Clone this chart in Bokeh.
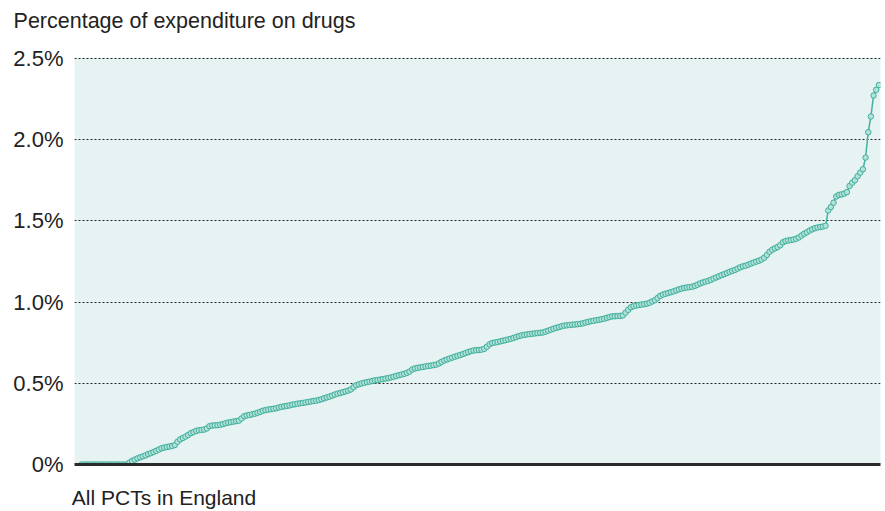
from bokeh.plotting import figure
from bokeh.models import FixedTicker, Range1d, LinearAxis
from bokeh.embed import file_html
from bokeh.resources import INLINE

# Percentage of expenditure on drugs, PCTs in England sorted ascending
drug_share = [
    0, 0, 0, 0, 0, 0, 0, 0, 0, 0, 0, 0, 0, 0, 0, 0, 0, 0,
    0.012, 0.022, 0.030, 0.038, 0.044, 0.050, 0.056, 0.064, 0.070, 0.077,
    0.084, 0.092, 0.100, 0.104, 0.108, 0.111, 0.114, 0.120, 0.140, 0.155,
    0.163, 0.172, 0.182, 0.193, 0.200, 0.207, 0.211, 0.213, 0.215, 0.222,
    0.236, 0.240, 0.241, 0.242, 0.245, 0.249, 0.254, 0.258, 0.261, 0.264,
    0.267, 0.270, 0.283, 0.297, 0.302, 0.305, 0.309, 0.313, 0.318, 0.324,
    0.331, 0.335, 0.338, 0.341, 0.343, 0.346, 0.351, 0.355, 0.358, 0.361,
    0.364, 0.368, 0.371, 0.374, 0.377, 0.379, 0.382, 0.385, 0.388, 0.391,
    0.393, 0.397, 0.402, 0.408, 0.413, 0.418, 0.424, 0.431, 0.436, 0.440,
    0.445, 0.450, 0.455, 0.462, 0.476, 0.488, 0.494, 0.499, 0.503, 0.507,
    0.510, 0.514, 0.518, 0.520, 0.523, 0.526, 0.529, 0.532, 0.536, 0.540,
    0.545, 0.550, 0.554, 0.558, 0.564, 0.572, 0.585, 0.591, 0.595, 0.598,
    0.601, 0.604, 0.607, 0.609, 0.612, 0.615, 0.622, 0.632, 0.640, 0.646,
    0.652, 0.658, 0.664, 0.669, 0.674, 0.680, 0.686, 0.692, 0.698, 0.702,
    0.704, 0.705, 0.707, 0.712, 0.725, 0.740, 0.748, 0.751, 0.754, 0.758,
    0.762, 0.766, 0.770, 0.774, 0.779, 0.785, 0.791, 0.795, 0.798, 0.801,
    0.803, 0.805, 0.807, 0.809, 0.811, 0.813, 0.818, 0.824, 0.830, 0.836,
    0.841, 0.846, 0.851, 0.855, 0.857, 0.859, 0.861, 0.862, 0.864, 0.866,
    0.869, 0.874, 0.878, 0.882, 0.885, 0.888, 0.891, 0.894, 0.898, 0.903,
    0.908, 0.912, 0.913, 0.914, 0.915, 0.918, 0.935, 0.952, 0.968, 0.975,
    0.979, 0.982, 0.985, 0.987, 0.990, 0.996, 1.004, 1.012, 1.025, 1.038,
    1.046, 1.051, 1.056, 1.061, 1.066, 1.072, 1.078, 1.083, 1.087, 1.090,
    1.092, 1.095, 1.100, 1.107, 1.115, 1.121, 1.126, 1.131, 1.137, 1.145,
    1.152, 1.159, 1.166, 1.172, 1.179, 1.186, 1.192, 1.198, 1.206, 1.214,
    1.220, 1.224, 1.230, 1.237, 1.243, 1.249, 1.255, 1.262, 1.273, 1.290,
    1.310, 1.322, 1.331, 1.339, 1.350, 1.368, 1.376, 1.379, 1.382, 1.385,
    1.390, 1.398, 1.410, 1.421, 1.430, 1.440, 1.448, 1.455, 1.459, 1.462,
    1.465, 1.470, 1.564, 1.585, 1.612, 1.650, 1.660, 1.663, 1.668, 1.677,
    1.715, 1.735, 1.750, 1.775, 1.797, 1.818, 1.890, 2.046, 2.143, 2.272,
    2.307, 2.336,
]
pct_rank = list(range(len(drug_share)))

y_ticks = [0, 0.5, 1.0, 1.5, 2.0, 2.5]
y_tick_labels = ["0%", "0.5%", "1.0%", "1.5%", "2.0%", "2.5%"]

title_text = "Percentage of expenditure on drugs"
x_label_text = "All PCTs in England"

FONT = "Liberation Sans"
TXT = "#222222"
TEAL = "#3fb2a0"

x_start, x_end = -2.625, 299.6
FRAME_W = 806
px_per_x = FRAME_W / (x_end - x_start)
# anchor points (centres of the two texts), in x data units
title_anchor = x_start + (184 - 74) / px_per_x
xlabel_anchor = x_start + (163.5 - 74) / px_per_x

p = figure(width=885, height=511, output_backend="svg", toolbar_location=None,
           x_range=Range1d(x_start, x_end), y_range=Range1d(0, 2.506),
           min_border_left=74, min_border_right=5, min_border_top=57,
           min_border_bottom=47)
p.outline_line_color = None
p.background_fill_color = "#e6f3f2"
p.border_fill_color = "white"

# y axis
p.yaxis.ticker = FixedTicker(ticks=y_ticks)
p.yaxis.major_label_overrides = {t: l for t, l in zip(y_ticks, y_tick_labels)}
p.yaxis.axis_line_color = None
p.yaxis.major_tick_line_color = None
p.yaxis.minor_tick_line_color = None
p.yaxis.major_tick_out = 0
p.yaxis.major_tick_in = 0
p.yaxis.major_label_standoff = 11
p.yaxis.major_label_text_font = FONT
p.yaxis.major_label_text_font_size = "22px"
p.yaxis.major_label_text_color = TXT

# x axis: dark base line, with "All PCTs in England" as its only label
p.xaxis.ticker = FixedTicker(ticks=[xlabel_anchor])
p.xaxis.major_label_overrides = {xlabel_anchor: x_label_text}
p.xaxis.axis_line_color = "#2b2b2b"
p.xaxis.axis_line_width = 3
p.xaxis.major_tick_line_color = None
p.xaxis.minor_tick_line_color = None
p.xaxis.major_tick_out = 0
p.xaxis.major_tick_in = 0
p.xaxis.major_label_standoff = 21
p.xaxis.major_label_text_font = FONT
p.xaxis.major_label_text_font_size = "21px"
p.xaxis.major_label_text_color = TXT

# title, carried by an unlined axis above the plot area
top_axis = LinearAxis(ticker=FixedTicker(ticks=[title_anchor]),
                      major_label_overrides={title_anchor: title_text},
                      axis_line_color=None, major_tick_line_color=None,
                      minor_tick_line_color=None, major_tick_out=0,
                      major_tick_in=0, major_label_standoff=25,
                      major_label_text_font=FONT,
                      major_label_text_font_size="21.5px",
                      major_label_text_color=TXT)
p.add_layout(top_axis, "above")

# grid
p.xgrid.visible = False
p.ygrid.ticker = FixedTicker(ticks=[0.5, 1.0, 1.5, 2.0, 2.5])
p.ygrid.grid_line_color = "#222222"
p.ygrid.grid_line_dash = "2 2"
p.ygrid.grid_line_width = 1.2

# data
p.line(pct_rank, drug_share, line_color=TEAL, line_width=1.5)
p.scatter(pct_rank, drug_share, size=5.5, fill_color="#b3e2d9",
          line_color="#3fae9c", line_width=1)

open("out.html", "w").write(file_html(p, INLINE))
